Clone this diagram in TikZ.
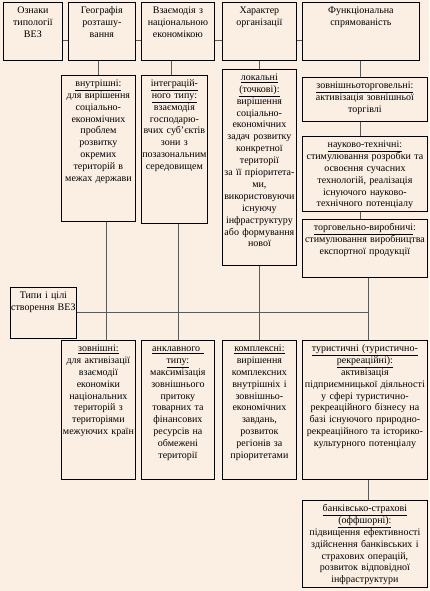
\documentclass[tikz,border=0pt]{standalone}
\usepackage{fontspec}
\setmainfont{Liberation Serif}
\usepackage{xcolor}
\definecolor{paper}{RGB}{251,239,228}
\definecolor{wire}{RGB}{90,90,90}

\tikzset{
  cell/.style={draw=black, line width=0.8pt, fill=paper, anchor=north west,
    align=center, inner xsep=-2pt, inner ysep=2pt, text height=9pt,
    font=\fontsize{10}{11.9}\selectfont},
  link/.style={draw=wire, line width=1.1pt}
}

\begin{document}
\begin{tikzpicture}[x=1pt, y=-1pt]
  \fill[paper] (0,0) rectangle (429,591);
  \useasboundingbox (0,0) rectangle (429,591);
  % Top row: typology criteria
  \node[cell, text width=63pt, text depth=45pt] (sign) at (3,2) {Ознаки\\типології\\ВЕЗ};
  \node[cell, text width=71pt, text depth=45pt] (geo) at (68,2) {Географія\\розташу-\\вання};
  \node[cell, text width=77pt, text depth=45pt] (econ) at (141,2) {Взаємодія з\\національною\\економікою};
  \node[cell, text width=78pt, text depth=45pt] (org) at (222,2) {Характер\\організації};
  \node[cell, text width=121pt, text depth=45pt] (func) at (302,2) {Функціональна\\спрямованість};
  % Second row
  \node[cell, text width=78pt, text depth=133pt] (inner) at (61,75)
    {\underline{внутрішні:}\\для вирішення\\соціально-\\економічних\\проблем\\розвитку\\окремих\\територій в\\межах держави};
  \node[cell, text width=70pt, text depth=135pt] (integ) at (141,75)
    {\underline{інтеграцій-}\\\underline{ного типу:}\\взаємодія\\господарю-\\вчих суб’єктів\\зони з\\позазональним\\середовищем};
  \node[cell, text width=78pt, text depth=183pt] (local) at (222,69)
    {\underline{локальні}\\\underline{(точкові):}\\вирішення\\соціально-\\економічних\\задач розвитку\\конкретної\\території\\за її пріоритета-\\ми,\\використовуючи\\існуючу\\інфраструктуру\\або формування\\нової};
  \node[cell, text width=129pt, text depth=31pt] (trade) at (302,77)
    {\underline{зовнішньоторговельні:}\\активізація зовнішньої\\торгівлі};
  \node[cell, text width=129pt, text depth=62pt] (tech) at (302,136)
    {\underline{науково-технічні:}\\стимулювання розробки та\\освоєння сучасних\\технологій, реалізація\\існуючого науково-\\технічного потенціалу};
  \node[cell, text width=129pt, text depth=45pt] (prod) at (302,219)
    {\underline{торговельно-виробничі}:\\стимулювання виробництва\\експортної продукції};
  % Types and goals
  \node[cell, text width=70pt, text depth=38pt] (types) at (10,287) {Типи і цілі\\створення ВЕЗ};
  \node[cell, text width=78pt, text depth=126pt] (outer) at (61,340)
    {\underline{зовнішні:}\\для активізації\\взаємодії\\економіки\\національних\\територій з\\територіями\\межуючих країн};
  \node[cell, text width=77pt, text depth=126pt] (encl) at (141,340)
    {\underline{анклавного\ }\\\underline{типу:}\\максимізація\\зовнішнього\\притоку\\товарних та\\фінансових\\ресурсів на\\обмежені\\території};
  \node[cell, text width=78pt, text depth=126pt] (compl) at (222,340)
    {\underline{комплексні:}\\вирішення\\комплексних\\внутрішніх і\\зовнішньо-\\економічних\\завдань,\\розвиток\\регіонів за\\пріоритетами};
  \node[cell, text width=129pt, text depth=126pt] (tour) at (302,340)
    {\underline{туристичні (туристично-}\\\underline{рекреаційні):}\\активізація\\підприємницької діяльності\\у сфері туристично-\\рекреаційного бізнесу на\\базі існуючого природно-\\рекреаційного та історико-\\культурного потенціалу};
  \node[cell, text width=129pt, text depth=74pt] (bank) at (302,500)
    {\underline{банківсько-страхові}\\\underline{(оффшорні):}\\підвищення ефективності\\здійснення банківських і\\страхових операцій,\\розвиток відповідної\\інфраструктури};
  % Links between criteria
  \foreach \a/\b in {sign/geo, geo/econ, econ/org, org/func}
    \draw[link] ([yshift=-9pt]\a.east) -- ([yshift=-9pt]\b.west);
  \draw[link] (inner.north) -- (inner.north |- geo.south);
  \draw[link] ([xshift=-3pt]integ.north) -- ([xshift=-3pt]integ.north |- econ.south);
  \draw[link] (local.north) -- (local.north |- org.south);
  \draw[link] (func.south) -- (func.south |- trade.north);
  \draw[link] (trade.south -| func.south) -- (tech.north -| func.south);
  \draw[link] (tech.south -| func.south) -- (prod.north -| func.south);
  % Links down to the types
  \coordinate (tourtop) at ([xshift=3.5pt]tour.north);
  \draw[link] ([xshift=8pt]inner.south) -- ([xshift=8pt]inner.south |- outer.north);
  \draw[link] ([xshift=4pt]integ.south) -- ([xshift=4pt]integ.south |- encl.north);
  \draw[link] (local.south) -- (local.south |- compl.north);
  \draw[link] (prod.south -| tourtop) -- (tourtop);
  \draw[link] (types.east) -- (types.east -| tourtop);
  \draw[link] (tour.south -| tourtop) -- (bank.north -| tourtop);
\end{tikzpicture}
\end{document}
